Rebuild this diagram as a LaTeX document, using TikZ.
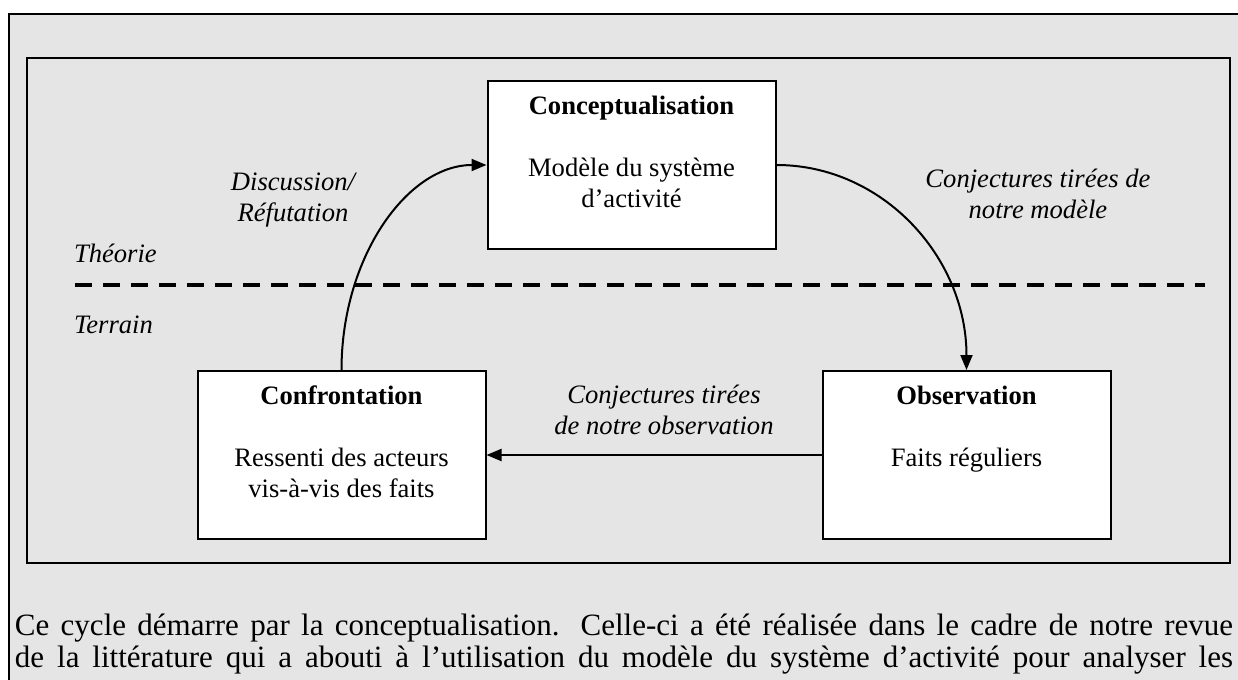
\documentclass[tikz,border=0pt]{standalone}
\usepackage{fontspec}
\setmainfont{Liberation Serif}
\usetikzlibrary{positioning,arrows.meta}
\definecolor{panelgray}{RGB}{229,229,229}

\begin{document}
\begin{tikzpicture}[x=0.5pt, y=-0.5pt, >={Triangle[length=7.5pt,width=6pt]}, line width=1pt,
                    box/.style={draw, fill=white, minimum width=144pt, minimum height=84pt},
                    boxtext/.style={align=center, anchor=base},
                    lbl/.style={align=center, anchor=base, font=\fontsize{13.3}{15.5}\selectfont\itshape},
                    para/.style={anchor=base west, font=\fontsize{15.5}{17}\selectfont}]
\tikzstyle{every node}=[font=\fontsize{13.3}{15.5}\selectfont, inner sep=0pt]
\clip (0,0) rectangle (1238,680);
\draw[fill=panelgray] (9,14) rectangle (1260,700);
\draw[line width=1.25pt] (27,58) rectangle (1230,563);

\coordinate (sep-l) at (75,285);
\coordinate (sep-r) at (1205,285);
\draw[line width=2pt, dash pattern=on 8.5pt off 5.5pt] (sep-l) -- (sep-r);

\node[box] (confront) at (341.5,455) {};
\node[box] (concept) [above right=60pt and 0pt of confront] {};
\node[box] (observ) [right=167.5pt of confront] {};

% base anchor = baseline of the last line
\node[boxtext] (concept-txt) at ([yshift=-63.5pt]concept.north) {\textbf{Conceptualisation}\\[15.5pt]Modèle du système\\d’activité};
\node[boxtext] (confront-txt) at ([yshift=-63.5pt]confront.north) {\textbf{Confrontation}\\[15.5pt]Ressenti des acteurs\\vis-à-vis des faits};
\node[boxtext] (observ-txt) at ([yshift=-48pt]observ.north) {\textbf{Observation}\\[15.5pt]Faits réguliers};

\node[lbl] (discussion) at (293,221) {Discussion/\\Réfutation};
\node[lbl] (conj-model) at (1038,218) {Conjectures tirées de\\notre modèle};
\node[lbl] (conj-obs) at (664,434) {Conjectures tirées\\de notre observation};
\node[lbl, anchor=base west] (theorie) at (73,262) {Théorie};
\node[lbl, anchor=base west] (terrain) at (73,333) {Terrain};

\draw[->] (confront.north) .. controls +(0,-113) and +(-79,0) .. (concept.west);
\draw[->] (concept.east) .. controls +(106,0) and +(0,-113) .. (observ.north);
\draw[->] (observ.west) -- (confront.east);

\node[para] (para-l1) at (14,635) {\makebox[609pt][s]{Ce cycle démarre par la conceptualisation. Celle-ci a été réalisée dans le cadre de notre revue}};
\node[para] (para-l2) at (14,667) {\makebox[609pt][s]{de la littérature qui a abouti à l’utilisation du modèle du système d’activité pour analyser les}};
\end{tikzpicture}
\end{document}
